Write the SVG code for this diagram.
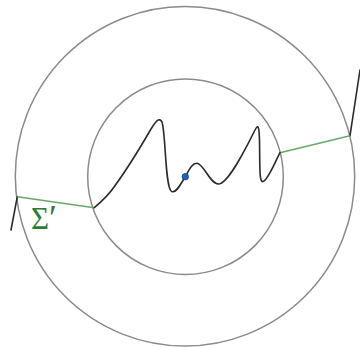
<svg xmlns="http://www.w3.org/2000/svg" width="360" height="347" viewBox="0 0 360 347">
<style>
.ring{fill:none;stroke:#8a8a8a;stroke-width:1.5}
.curve{fill:none;stroke:#2a2a2a;stroke-width:1.6;stroke-linejoin:round;stroke-linecap:round}
.green{fill:none;stroke:#6aa86a;stroke-width:1.6}
.lbl{font-family:"Liberation Serif","DejaVu Serif",serif;font-size:31px;fill:#2e7d32}
</style>
<rect width="360" height="347" fill="#ffffff"/>
<g id="outer-circle"><circle class="ring" cx="185" cy="176.3" r="169.7"/></g>
<g id="inner-circle"><circle class="ring" cx="185.5" cy="176.7" r="97.8"/></g>
<g id="connectors">
<path class="curve" d="M11,230 L17.3,196.7"/>
<path class="curve" d="M350,135.7 L360,70"/>
<path class="green" d="M17.3,196.7 L94.3,207.7"/>
<path class="green" d="M280,152.7 L350,135.7"/>
<path class="curve" d="M94.3,207.7 C102,201 108,196 114,187 C125,172 140,148 151,129 C156,121 159,117 162,122 C166,135 165,190 172,191.7 C177,193 181,183 185.3,176.7 C189,170 192,163 197,163.3 C204,164 210,184 218.3,184 C228,184 245,150 254,132 C258,124 259,124 259.5,140 C260,165 259,183 263,181.5 C268,180 275,162 280,152.7"/>
</g>
<g id="center-point"><circle cx="185.3" cy="176.7" r="3.2" fill="#1d5fc4" stroke="#123d80" stroke-width="0.8"/></g>
<g id="label-sigma"><text class="lbl" x="31" y="229">Σ<tspan font-size="36" dx="0" dy="1">′</tspan></text></g>
</svg>
